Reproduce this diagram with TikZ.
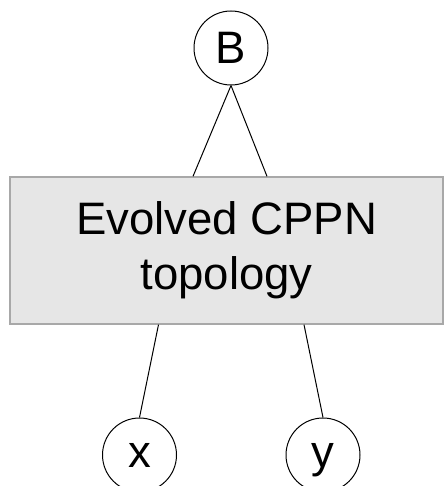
\documentclass[tikz,border=0pt]{standalone}
\usepackage{fontspec}
\setmainfont{Liberation Sans}
\definecolor{grigiochiaro}{HTML}{E6E6E6}
\definecolor{grigiobordo}{HTML}{A8A8A8}
\tikzset{
    neurone/.style={circle, draw, line width=1pt, minimum size=74pt, inner sep=0pt,
        text depth=0pt, font=\fontsize{45.5}{55}\selectfont},
    scatola/.style={rectangle, draw=grigiobordo, fill=grigiochiaro, line width=1.3pt,
        minimum width=433pt, minimum height=147pt, align=center,
        font=\fontsize{45.5}{55}\selectfont},
    arco/.style={line width=1pt}
}
\begin{document}
\begin{tikzpicture}[x=1pt, y=1pt]
    \clip (0,0) rectangle (444,486);

    % Nodi
    \node[neurone] (B) at (231,438) {B};
    \node[scatola] (cppn) at (226.5,235.5) {Evolved CPPN\\topology};
    \node[neurone] (x) at (139.5,31) {x};
    \node[neurone] (y) at (323,31) {y};

    % Archi verso l'uscita
    \draw[arco] (B.south) -- ([xshift=-38pt]B.south |- cppn.north);
    \draw[arco] (B.south) -- ([xshift=36pt]B.south |- cppn.north);

    % Archi dagli ingressi
    \draw[arco] ([xshift=19pt]x.north |- cppn.south) -- (x.north);
    \draw[arco] ([xshift=-19pt]y.north |- cppn.south) -- (y.north);
\end{tikzpicture}
\end{document}
